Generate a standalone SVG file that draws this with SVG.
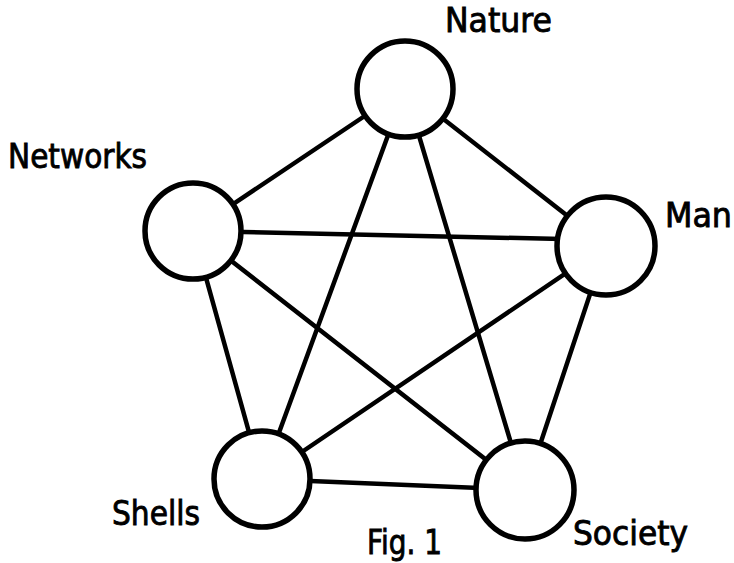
<svg xmlns="http://www.w3.org/2000/svg" width="734" height="563" viewBox="0 0 734 563">
  <style>
    .edge { stroke: #000; stroke-width: 4.5; stroke-linecap: round; fill: none; }
    .node circle { fill: #fff; stroke: #000; stroke-width: 5.5; }
    .label { font-family: "DejaVu Sans", "Liberation Sans", sans-serif; font-size: 33px; fill: #000; stroke: #000; stroke-width: 0.9; }
  </style>
  <rect width="734" height="563" fill="#fff"/>

  <!-- connectors: every pair of nodes is linked -->
  <g id="connectors">
    <line class="edge" x1="405" y1="89" x2="193" y2="231"/>
    <line class="edge" x1="405" y1="89" x2="606" y2="246"/>
    <line class="edge" x1="405" y1="89" x2="262" y2="479"/>
    <line class="edge" x1="405" y1="89" x2="525" y2="490"/>
    <line class="edge" x1="193" y1="231" x2="606" y2="240"/>
    <line class="edge" x1="193" y1="231" x2="262" y2="479"/>
    <line class="edge" x1="193" y1="231" x2="525" y2="490"/>
    <line class="edge" x1="606" y1="246" x2="262" y2="479"/>
    <line class="edge" x1="606" y1="246" x2="525" y2="490"/>
    <line class="edge" x1="262" y1="479" x2="525" y2="490"/>
  </g>

  <g id="nature" class="node">
    <circle cx="405" cy="89" r="48"/>
    <text class="label" x="445" y="32" textLength="107" lengthAdjust="spacingAndGlyphs">Nature</text>
  </g>
  <g id="networks" class="node">
    <circle cx="193" cy="231" r="48"/>
    <text class="label" x="8" y="168" textLength="139" lengthAdjust="spacingAndGlyphs">Networks</text>
  </g>
  <g id="man" class="node">
    <circle cx="606" cy="246" r="49"/>
    <text class="label" x="665" y="227" textLength="67" lengthAdjust="spacingAndGlyphs">Man</text>
  </g>
  <g id="shells" class="node">
    <circle cx="262" cy="479" r="48"/>
    <text class="label" x="112" y="525" textLength="88" lengthAdjust="spacingAndGlyphs">Shells</text>
  </g>
  <g id="society" class="node">
    <circle cx="525" cy="490" r="49"/>
    <text class="label" x="573" y="545" textLength="115" lengthAdjust="spacingAndGlyphs">Society</text>
  </g>

  <text id="caption" class="label" x="367" y="554" textLength="75" lengthAdjust="spacingAndGlyphs">Fig. 1</text>
</svg>
